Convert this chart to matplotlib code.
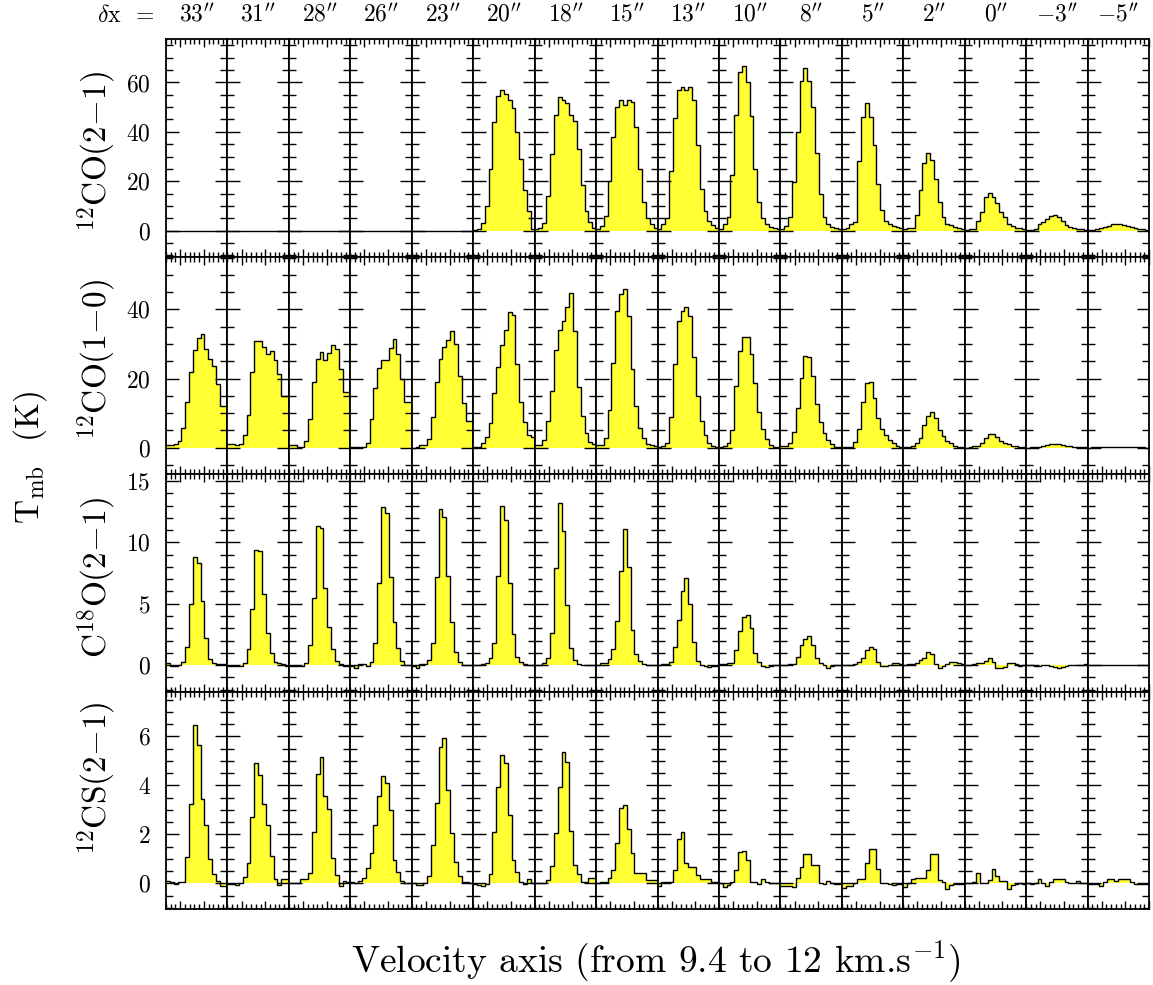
import numpy as np
import matplotlib
matplotlib.use("Agg")
import matplotlib.pyplot as plt
from matplotlib.ticker import MultipleLocator

plt.rcParams['font.family'] = ['cmr10', 'DejaVu Serif']
plt.rcParams['mathtext.fontset'] = 'cm'
plt.rcParams['axes.unicode_minus'] = False
plt.rcParams['axes.formatter.use_mathtext'] = True

# ---------------- data ----------------
offsets = ["33", "31", "28", "26", "23", "20", "18", "15", "13", "10", "8", "5", "2", "0", "-3", "-5"]
line_names = [r"$^{12}$CO(2$-$1)", r"$^{12}$CO(1$-$0)", r"C$^{18}$O(2$-$1)", r"$^{12}$CS(2$-$1)"]
v_min, v_max, n_chan = 9.4, 12.0, 16

co21 = [
    [0]*16, [0]*16, [0]*16, [0]*16, [0]*16,
    [0.3, 0.8, 3, 10, 25, 44, 54.5, 57, 55.5, 53, 49.5, 40, 29, 16.5, 8, 0.5],
    [0.5, 1.2, 3, 14, 31, 47, 54, 53, 51.5, 47, 44.5, 33, 18.5, 8, 3.5, 1],
    [0.5, 1.9, 6, 20, 38, 50, 53, 51, 53, 52, 42, 25, 11.6, 5, 2.6, 1],
    [0.8, 2.6, 5, 24, 45.4, 57, 58.2, 57, 58, 53, 34.7, 17, 8, 4, 2.3, 1],
    [0.8, 2.6, 5.5, 22.6, 46.8, 64.3, 66.5, 60, 46.5, 25, 11.6, 5, 2.8, 1.5, 1.2, 0.8],
    [0.8, 1.9, 5.3, 19.7, 40, 60.7, 65.7, 60.7, 50, 31.6, 14.7, 5.3, 2.8, 1.5, 1.2, 0.8],
    [0.5, 1.2, 2.5, 3.5, 28, 46, 51.6, 46, 34.7, 18.8, 8.2, 4, 2.5, 1.8, 1.5, 1.0],
    [0.5, 1.2, 1.2, 6.4, 16.4, 27.3, 31.6, 28.5, 20.8, 11.4, 5.3, 2.8, 2.2, 1.5, 1.2, 0.8],
    [0.2, 0.5, 0.5, 4, 7.7, 13.4, 15.4, 13.8, 11, 7.6, 5.3, 2.5, 1.9, 1.2, 1, 0.5],
    [0.1, 0.3, 0.5, 2.6, 3.6, 4.6, 5.9, 6.2, 5.3, 3.9, 2.3, 1.6, 1.2, 0.8, 0.5, 0.4],
    [0.2, 0.3, 0.5, 0.9, 1.4, 1.9, 2.5, 2.8, 2.8, 2.4, 1.9, 1.4, 1.0, 0.7, 0.5, 0.3],
]

co10 = [
    [0.8, 0.8, 1.2, 1.9, 5.6, 13.1, 22, 28.4, 31.8, 32.9, 28.6, 25.7, 23.6, 18.3, 12, 12],
    [1, 1, 0.8, 1.1, 3.6, 9.4, 22, 30.8, 30.8, 29.2, 27, 28, 25.3, 21.2, 15, 15],
    [0.8, 0.8, 0.3, 0.3, 2, 8.2, 19, 25.8, 27.7, 25.3, 27.3, 29.6, 28.5, 22.7, 16, 16],
    [0.3, 0.3, 0.3, 0.3, 1.5, 8.2, 17.4, 23, 25.5, 25.5, 28.9, 31.3, 27, 19.8, 13.3, 13.3],
    [0, 0.3, 0.8, 0.8, 2.5, 9, 19, 25.8, 29, 31.1, 33.7, 29.9, 20.8, 13, 7.7, 7.7],
    [0.3, 0.3, 1.4, 3, 7.2, 15.7, 23.2, 29.7, 34, 39.3, 38.4, 24.1, 13.1, 7.5, 3.7, 3],
    [0.8, 0.8, 2.2, 7.8, 16.5, 28.2, 34, 36.7, 40.6, 44.8, 33.7, 17.6, 9.2, 4.3, 1.7, 1],
    [0.8, 0.8, 2.7, 10.9, 24.6, 39.6, 44.4, 46, 38, 22.9, 12.2, 5.6, 2.7, 1.2, 0.8, 0.5],
    [0.3, 0.6, 1.4, 9, 24.2, 36.7, 39.6, 40.6, 38, 26.1, 15, 7.8, 3.7, 1.5, 0.6, 0.3],
    [0.3, 0.5, 1.3, 5.1, 17.9, 28, 31.9, 32.1, 27.1, 18.6, 10.4, 5.4, 2.4, 0.8, 0.3, 0.2],
    [0.5, 0.5, 1.3, 4.6, 11.4, 20.3, 26.5, 26.3, 20.7, 12.6, 7.3, 4.3, 2.2, 1.1, 0.3, 0.2],
    [0.2, 0.3, 0.3, 1.7, 5.4, 13.3, 18.6, 18.9, 14.3, 8.5, 5.4, 3.7, 2.2, 1.3, 0.5, 0.3],
    [0.1, 0.1, 0.5, 1.4, 2.7, 6.6, 9.3, 10.3, 8.5, 5.1, 3.4, 2, 1.3, 0.6, 0.3, 0.2],
    [-0.1, 0.1, 0.4, 0.6, 1.3, 2.7, 3.9, 4, 3.2, 2, 1.4, 1.1, 0.6, 0.4, 0.3, 0.2],
    [0, 0.1, 0.2, 0.3, 0.5, 0.8, 1.0, 1.1, 1.0, 0.8, 0.6, 0.4, 0.3, 0.2, 0.1, 0.1],
    [0, 0.1, 0.1, 0.2, 0.2, 0.3, 0.3, 0.3, 0.3, 0.3, 0.2, 0.2, 0.1, 0.1, 0.1, 0],
]

c18o = [
    [0.14, -0.05, -0.05, 0, 0.27, 1.5, 4.95, 8.8, 8.3, 5.2, 2.2, 0.5, 0.14, 0.1, 0.05, 0.05],
    [-0.05, -0.05, -0.1, -0.1, 0.2, 1.35, 4.6, 9.4, 9.3, 5.8, 2.6, 0.95, 0.27, 0.14, 0.05, -0.05],
    [-0.1, -0.1, -0.1, -0.05, 0.2, 1.6, 5.5, 11.3, 11.2, 6.3, 3.1, 1.3, 0.33, 0.08, -0.1, -0.1],
    [-0.05, -0.2, 0.1, 0.05, -0.05, 0.27, 1.8, 6.7, 12.9, 12.4, 7.2, 3.5, 1.4, 0.35, 0, 0],
    [-0.05, -0.2, 0.08, 0.1, 0.4, 1.8, 7.2, 12.7, 12.1, 7.3, 3.5, 1.1, 0.27, 0, 0, 0],
    [0, 0, 0.05, 0.2, 0.6, 1.8, 7.3, 13, 11.8, 6.7, 2.5, 0.7, 0.27, 0.05, 0, 0],
    [0, 0, 0.14, 0.55, 2.6, 7.9, 13.2, 10.9, 4.9, 1.4, 0.4, 0.08, 0, 0, 0, 0],
    [0, 0.14, 0.14, 0.5, 1.3, 3.6, 7.7, 11.1, 8, 2.9, 0.9, 0.33, 0.08, 0, 0, 0],
    [0, 0.08, 0.08, 0.27, 1.5, 3.7, 6, 7.1, 5, 1.9, 0.35, 0, -0.1, -0.14, -0.05, -0.05],
    [0.05, 0.05, 0.14, 0.14, 1.2, 2.8, 3.9, 4.05, 3, 1, 0.25, -0.08, -0.14, -0.05, 0, 0],
    [0, 0, 0.08, 0.08, 0.7, 1.6, 2.1, 2.4, 1.6, 0.55, 0.14, 0, -0.2, -0.05, 0, 0],
    [0, 0, 0, 0.05, 0.27, 0.6, 1.2, 1.5, 1.3, 0.27, -0.05, -0.05, 0, 0.14, 0.14, 0.08],
    [0, 0.05, 0.08, 0.2, 0.4, 0.55, 1.03, 0.9, 0.08, -0.2, -0.1, 0.08, 0.27, 0.27, 0.14, 0.05],
    [0, 0, 0.08, 0.2, 0.2, 0.35, 0.6, 0.27, -0.2, -0.2, -0.14, 0.2, 0.14, 0.05, -0.05, 0],
    [0, 0.02, -0.05, -0.05, -0.02, 0.02, -0.05, -0.15, -0.2, -0.15, -0.05, 0, 0.02, 0, 0.02, 0.05],
    [0]*16,
]

cs21 = [
    [0.1, 0.05, -0.04, 0.07, 0.07, 1.06, 3.24, 6.46, 5.65, 3.46, 2.39, 0.98, 0.38, 0.1, -0.1, -0.1],
    [-0.03, -0.03, -0.07, 0, 0.27, 0.84, 2.72, 4.9, 4.42, 3.24, 2.38, 1.13, 0.18, -0.07, 0.16, 0.16],
    [0.03, 0.03, 0.03, 0.19, 0.19, 0.44, 2.1, 4.45, 5.17, 3.58, 3.03, 1.02, 0.34, -0.1, 0.11, 0.07],
    [0.07, 0, 0.1, 0.23, 0.61, 1.22, 2.38, 3.58, 4.4, 4.08, 2.99, 0.95, 0.48, 0.11, 0, 0],
    [0, -0.07, -0.07, 0, 0.3, 1.56, 3.27, 5.58, 5.92, 3.81, 2.04, 0.88, 0.3, 0.04, 0.07, 0],
    [-0.03, -0.05, -0.1, -0.03, 0.37, 2.08, 3.92, 5.24, 4.9, 2.79, 0.95, 0.48, 0.04, -0.03, 0.18, 0],
    [0, 0, 0, 0.14, 0.71, 2.04, 3.92, 5.35, 4.97, 2.15, 0.75, 0.38, 0.04, 0.04, 0.2, 0.2],
    [0, 0.07, 0.07, 0.2, 0.54, 1.63, 3.06, 3.2, 2.22, 1.25, 0.41, 0.44, 0.44, 0.14, 0.14, 0.14],
    [-0.1, 0.07, 0.07, 0.07, 0.54, 1.81, 2.1, 0.82, 0.65, 0.65, 0.34, 0.16, 0.16, 0.16, 0.07, 0.07],
    [0.03, -0.14, -0.07, 0.04, 0.54, 1.29, 1.33, 0.95, 0.07, 0.07, -0.03, 0.16, 0.07, 0.03, 0.03, 0.03],
    [-0.1, -0.1, -0.12, -0.16, 0.2, 0.65, 1.18, 1.18, 0.75, 0.75, 0.03, -0.03, 0.1, 0.03, -0.03, -0.03],
    [-0.2, -0.1, -0.1, 0.03, 0.19, 0.19, 0.82, 1.4, 1.4, 0.58, 0.03, 0, -0.03, -0.05, -0.03, -0.03],
    [-0.14, 0.03, 0.16, 0.22, 0.22, 0.22, 0.54, 1.2, 1.2, 0.14, 0.07, -0.23, -0.08, -0.02, -0.02, -0.03],
    [0, 0, 0.07, 0.44, 0, 0, 0.14, 0.58, 0.3, 0.11, 0.11, -0.24, -0.07, -0.02, 0, -0.02],
    [0, -0.02, 0, 0.16, 0, -0.1, 0.07, 0.16, 0.16, 0.16, 0.07, 0.03, 0.03, 0.1, 0, 0],
    [-0.02, -0.02, -0.03, -0.1, 0.07, 0.16, 0.16, 0.1, 0.16, 0.19, 0.19, 0.07, -0.02, -0.02, -0.02, -0.02],
]

rows = [co21, co10, c18o, cs21]
row_ylims = [(-10.5, 77.6), (-7.6, 55.3), (-2.15, 15.57), (-1.05, 7.83)]
row_major = [20, 20, 5, 2]
row_minor = [5, 5, 1, 0.5]

# ---------------- figure ----------------
W, H = 1153, 985
fig = plt.figure(figsize=(W / 100, H / 100), dpi=100)
left, right, top, bottom = 166 / W, 1149 / W, 1 - 39 / H, 1 - 909 / H
gs = fig.add_gridspec(4, 16, left=left, right=right, top=top, bottom=bottom,
                      hspace=0, wspace=0)

edges = np.linspace(v_min, v_max, n_chan + 1)
fill_color = '#ffff33'

for r, spectra in enumerate(rows):
    for c in range(16):
        ax = fig.add_subplot(gs[r, c])
        vals = np.asarray(spectra[c], dtype=float)
        ax.stairs(vals, edges, baseline=0, fill=True, color=fill_color, lw=0)
        ax.stairs(vals, edges, baseline=None, color='black', lw=1.0)
        ax.set_xlim(v_min, v_max)
        ax.set_ylim(*row_ylims[r])
        ax.xaxis.set_major_locator(MultipleLocator(1.0))
        ax.xaxis.set_minor_locator(MultipleLocator(0.2))
        ax.yaxis.set_major_locator(MultipleLocator(row_major[r]))
        ax.yaxis.set_minor_locator(MultipleLocator(row_minor[r]))
        ax.tick_params(axis='both', which='both', direction='in', top=True, right=True,
                       labelbottom=False, labelleft=(c == 0), width=1.0,
                       labelsize=17, pad=11)
        ax.tick_params(axis='y', which='major', length=9)
        ax.tick_params(axis='y', which='minor', length=5)
        ax.tick_params(axis='x', which='major', length=6)
        ax.tick_params(axis='x', which='minor', length=3.5)
        for sp in ax.spines.values():
            sp.set_linewidth(1.3)
        if r == 0:
            lab = offsets[c]
            if lab.startswith('-'):
                txt = r"$-" + lab[1:] + r"^{\prime\prime}$"
            else:
                txt = r"$" + lab + r"^{\prime\prime}$"
            ax.text(0.5, 1.0 + 24 / 217.5, txt, transform=ax.transAxes,
                    ha='center', va='center', fontsize=17)

# row labels
row_label_y = [152, 360, 578, 778]
for r in range(4):
    fig.text(97 / W, 1 - row_label_y[r] / H, line_names[r], rotation=90,
             ha='center', va='center', fontsize=24)

fig.text(126 / W, 1 - 16 / H, r"$\delta$x  =", ha='center', va='center', fontsize=17)
fig.text(30 / W, 1 - 458 / H, r"T$_{\rm mb}$  (K)", rotation=90,
         ha='center', va='center', fontsize=24)
fig.text(656 / W, 1 - 962 / H, r"Velocity axis (from 9.4 to 12 km.s$^{-1}$)",
         ha='center', va='center', fontsize=27)

fig.savefig("out.png", dpi=100)
